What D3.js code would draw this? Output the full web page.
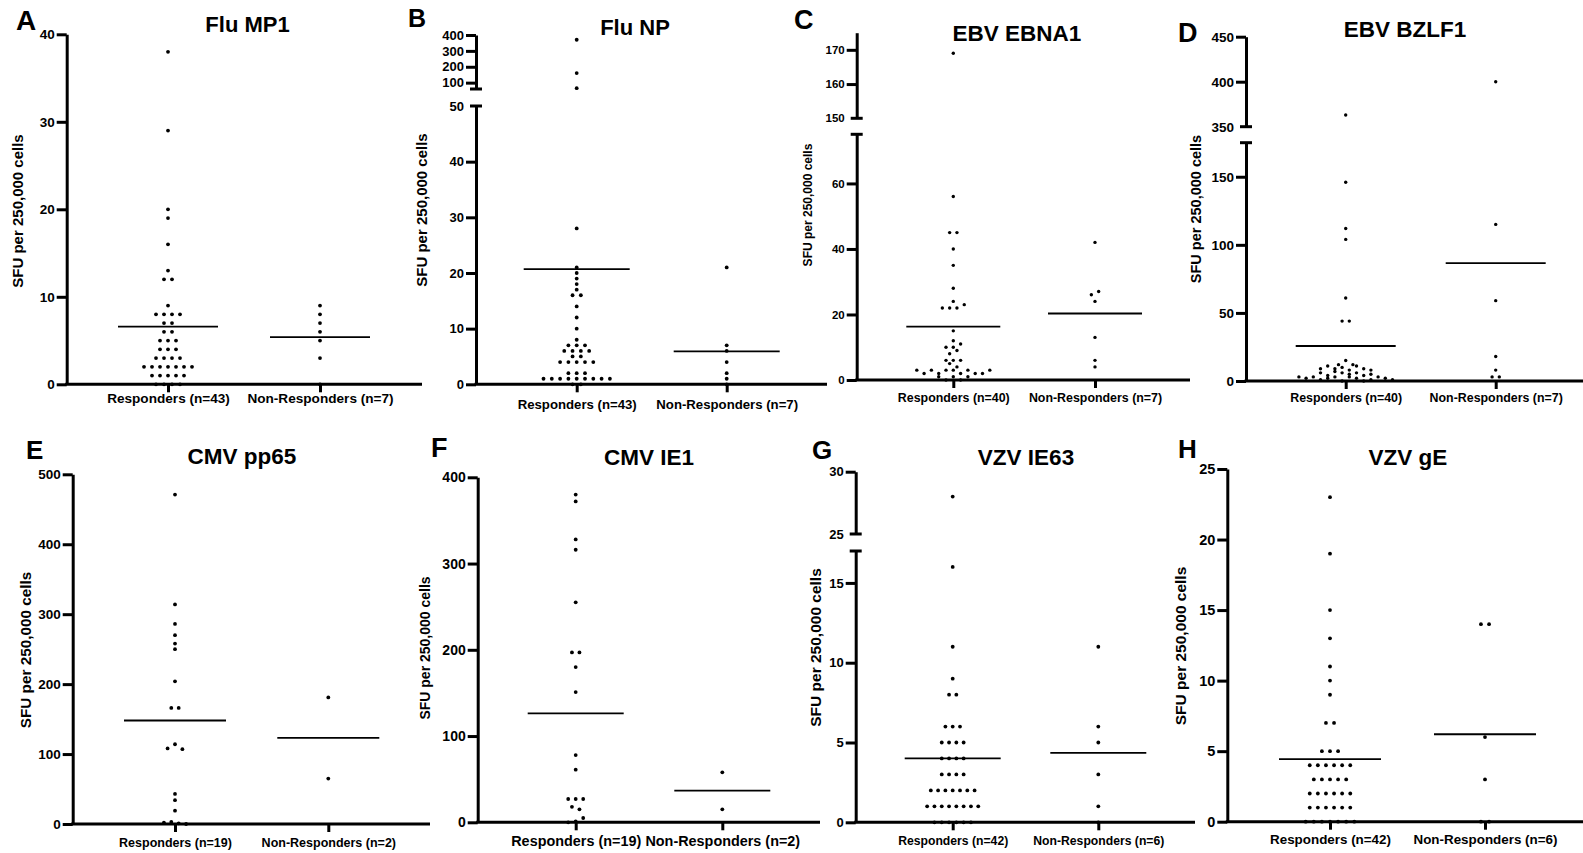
<!DOCTYPE html>
<html>
<head>
<meta charset="utf-8">
<script src="https://cdn.jsdelivr.net/npm/d3@7"></script>
<style>
  body { margin: 0; background: #fff; }
  svg text { font-family: "Liberation Sans", Arial, Helvetica, sans-serif; font-weight: bold; fill: #000; }
</style>
</head>
<body>
<svg id="fig" width="1583" height="853"></svg>
<script>
// Groups shown on every panel's x axis
const groups = ["Responders", "Non-Responders"];

// SFU per 250,000 cells, per antigen and group
const fluMP1Labels = ["Responders (n=43)", "Non-Responders (n=7)"];
const fluMP1Resp = [38,29,20,19,16,13,12,12,9,8,8,8,8,7,7,6,6,5,5,5,4,4,4,3,3,3,3,2,2,2,2,2,2,2,1,1,1,1,1,0,0,0,0];
const fluMP1Non = [9,8,7,6,5,3,0];
const fluMP1Means = [6.6, 5.4];
const fluMP1Ticks = [0,10,20,30,40];

const fluNPLabels = ["Responders (n=43)", "Non-Responders (n=7)"];
const fluNPResp = [370,160,65,28,21,20,19,18,17,16,16,14,12,10,8,7,7,7,6,6,6,6,5,5,4,4,4,4,4,2,2,2,1,1,1,1,1,1,1,1,1,0,0];
const fluNPNon = [21,7,6,4,2,1,0];
const fluNPMeans = [20.7, 5.9];
const fluNPTicksLow = [0,10,20,30,40,50];
const fluNPTicksHigh = [100,200,300,400];

const ebnaLabels = ["Responders (n=40)", "Non-Responders (n=7)"];
const ebnaResp = [169,56,45,45,40,35,28,24,22,22,22,23,15,12,10,10,11,8,9,6,6,6,5,4,
                  3,2,3,2,3,3,2,3,2,2,3, 1,0,1,0,1];
const ebnaNon = [42,24,26,27,13,6,4];
const ebnaMeans = [16.3, 20.3];
const ebnaTicksLow = [0,20,40,60];
const ebnaTicksHigh = [150,160,170];

const bzlf1Labels = ["Responders (n=40)", "Non-Responders (n=7)"];
const bzlf1Resp = [363,146,112,104,61,44,44, 12,15,12, 9,11,9,10,8,11,9,8, 6,4,7,6,5,6,4,5,
                   3,2,3,1,2,3,0,3,2,0,1,3,2,1];
const bzlf1Non = [400,115,59,18,8,3,3];
const bzlf1Means = [25.7, 86.5];
const bzlf1TicksLow = [0,50,100,150];
const bzlf1TicksHigh = [350,400,450];

const pp65Labels = ["Responders (n=19)", "Non-Responders (n=2)"];
const pp65Resp = [471,314,286,270,258,250,204,166,166,108,114,107,43,34,19,2,3,1,0];
const pp65Non = [181,65];
const pp65Means = [148, 123];
const pp65Ticks = [0,100,200,300,400,500];

const ie1Labels = ["Responders (n=19)", "Non-Responders (n=2)"];
const ie1Resp = [380,372,328,316,255,197,197,180,151,78,61,27,27,27,18,15,0,1,5];
const ie1Non = [58,15];
const ie1Means = [126.4, 36.7];
const ie1Ticks = [0,100,200,300,400];

const ie63Labels = ["Responders (n=42)", "Non-Responders (n=6)"];
const ie63Resp = [28,16,11,9,8,8,6,6,6,5,5,5,5,4,4,4,4,3,3,3,3,2,2,2,2,2,2,2,1,1,1,1,1,1,1,1,0,0,0,0,0,0];
const ie63Non = [11,6,5,3,1,0];
const ie63Means = [4.0, 4.35];
const ie63TicksLow = [0,5,10,15];
const ie63TicksHigh = [25,30];

const gELabels = ["Responders (n=42)", "Non-Responders (n=6)"];
const gEResp = [23,19,15,13,11,10,9,7,7,5,5,5,4,4,4,4,4,4,3,3,3,3,3,2,2,2,2,2,2,1,1,1,1,1,1,0,0,0,0,0,0,0];
const gENon = [14,14,6,3,0,0];
const gEMeans = [4.44, 6.2];
const gETicks = [0,5,10,15,20,25];

// Panel layout: axis placement, broken-axis segments and text sizes
const panels = [
  { letter: "A", title: "Flu MP1", labels: fluMP1Labels, resp: fluMP1Resp, non: fluMP1Non, means: fluMP1Means,
    x0: 66.7, x1: 422, xAxisY: 384.3, cx: [168, 320],
    segs: [{ dom: [0, 40], rng: [384.3, 34.3], ticks: fluMP1Ticks }],
    letterPos: [16, 30, 28], titlePos: [247.5, 32, 22], yLab: [18, 211, 15],
    tickFont: 13.5, catFont: 13.6, catBase: 403, step: 8, r: 1.9, half: 50 },
  { letter: "B", title: "Flu NP", labels: fluNPLabels, resp: fluNPResp, non: fluNPNon, means: fluNPMeans,
    x0: 476, x1: 827, xAxisY: 384.3, cx: [576.7, 726.7],
    segs: [{ dom: [0, 50], rng: [384.3, 106], ticks: fluNPTicksLow, capHigh: true },
           { dom: [60, 400], rng: [89, 35], ticks: fluNPTicksHigh, capLow: true }],
    letterPos: [408, 27, 25], titlePos: [635, 35, 22], yLab: [421.7, 210, 15],
    tickFont: 13, catFont: 13.2, catBase: 409, step: 8.3, r: 1.9, half: 53 },
  { letter: "C", title: "EBV EBNA1", labels: ebnaLabels, resp: ebnaResp, non: ebnaNon, means: ebnaMeans,
    x0: 856.7, x1: 1190, xAxisY: 380, cx: [953.3, 1095],
    segs: [{ dom: [0, 75], rng: [380, 134.3], ticks: ebnaTicksLow, capHigh: true },
           { dom: [150, 175], rng: [118.3, 32.7], ticks: ebnaTicksHigh, capLow: true }],
    letterPos: [794, 29, 27], titlePos: [1017, 40.5, 22.5], yLab: [808, 205, 12],
    tickFont: 11.5, catFont: 12.4, catBase: 401.5, step: 7.3, r: 1.7, half: 47 },
  { letter: "D", title: "EBV BZLF1", labels: bzlf1Labels, resp: bzlf1Resp, non: bzlf1Non, means: bzlf1Means,
    x0: 1246, x1: 1583, xAxisY: 381, cx: [1345.7, 1495.7],
    segs: [{ dom: [0, 175], rng: [381, 142.7], ticks: bzlf1TicksLow, capHigh: true },
           { dom: [350, 450], rng: [126.7, 36.7], ticks: bzlf1TicksHigh, capLow: true }],
    letterPos: [1178, 41.5, 27], titlePos: [1405, 37.3, 22.5], yLab: [1196, 209, 14.5],
    tickFont: 13.5, catFont: 12.4, catBase: 401.5, step: 7.2, r: 1.7, half: 50 },
  { letter: "E", title: "CMV pp65", labels: pp65Labels, resp: pp65Resp, non: pp65Non, means: pp65Means,
    x0: 72.7, x1: 430, xAxisY: 824, cx: [175, 328.3],
    segs: [{ dom: [0, 500], rng: [824, 474.3], ticks: pp65Ticks }],
    letterPos: [26, 459, 26], titlePos: [242, 464, 22.5], yLab: [25, 650, 15.3],
    tickFont: 13.5, catFont: 12.5, catBase: 847, step: 7.4, r: 1.9, half: 51 },
  { letter: "F", title: "CMV IE1", labels: ie1Labels, resp: ie1Resp, non: ie1Non, means: ie1Means,
    x0: 477.7, x1: 820, xAxisY: 822.3, cx: [575.7, 722.3],
    segs: [{ dom: [0, 400], rng: [822.3, 477.3], ticks: ie1Ticks }],
    letterPos: [431, 456.5, 27], titlePos: [649, 465, 22.5], yLab: [425, 648, 14],
    tickFont: 14, catFont: 14.4, catBase: 846, step: 7.5, r: 1.9, half: 48 },
  { letter: "G", title: "VZV IE63", labels: ie63Labels, resp: ie63Resp, non: ie63Non, means: ie63Means,
    x0: 855.7, x1: 1195, xAxisY: 822.3, cx: [952.7, 1098.3],
    segs: [{ dom: [0, 17], rng: [822.3, 551], ticks: ie63TicksLow, capHigh: true },
           { dom: [25, 30], rng: [534, 471.7], ticks: ie63TicksHigh, capLow: true }],
    letterPos: [812, 458.5, 26], titlePos: [1026, 465, 22.5], yLab: [815, 647.5, 15.5],
    tickFont: 13, catFont: 12.2, catBase: 845, step: 7.3, r: 1.9, half: 48 },
  { letter: "H", title: "VZV gE", labels: gELabels, resp: gEResp, non: gENon, means: gEMeans,
    x0: 1227.3, x1: 1583, xAxisY: 821.7, cx: [1330, 1485],
    segs: [{ dom: [0, 25], rng: [821.7, 469], ticks: gETicks }],
    letterPos: [1178, 458, 26], titlePos: [1408, 465, 22.5], yLab: [1180, 646, 15.5],
    tickFont: 14.5, catFont: 13.4, catBase: 844, step: 8.1, r: 1.9, half: 51 }
];

const AXIS_W = 3;
const CAP = 6;
const BIN_H = 5;
const tickFmt = d3.format("~g");

// Scatter-dot layout: values whose pixel rows are within BIN_H share a row,
// and each row is spread horizontally around the group centre.
function swarm(values, yOf, cx, step) {
  const pts = values.map((v, i) => ({ v, i, y: yOf(v) }));
  const sorted = pts.slice().sort((a, b) => b.y - a.y || a.i - b.i);
  const bins = [];
  let cur = null;
  sorted.forEach(p => {
    if (!cur || cur.start - p.y >= BIN_H) { cur = { start: p.y, pts: [] }; bins.push(cur); }
    cur.pts.push(p);
  });
  bins.forEach(b => {
    b.pts.sort((a, c) => a.i - c.i);
    const n = b.pts.length;
    b.pts.forEach((p, k) => { p.x = cx + (k - (n - 1) / 2) * step; });
  });
  return pts;
}

const svg = d3.select("#fig");
svg.append("rect").attr("width", 1583).attr("height", 853).attr("fill", "#fff");

panels.forEach(p => {
  const g = svg.append("g");
  const scales = p.segs.map(s => d3.scaleLinear().domain(s.dom).range(s.rng));
  const yOf = v => {
    for (let k = 0; k < p.segs.length; k++) {
      if (v <= p.segs[k].dom[1] || k === p.segs.length - 1) return scales[k](v);
    }
  };

  // y axis, one piece per segment of the broken axis
  p.segs.forEach((s, k) => {
    const ax = g.append("g")
      .attr("transform", `translate(${p.x0},0)`)
      .call(d3.axisLeft(scales[k]).tickValues(s.ticks).tickFormat(tickFmt)
        .tickSize(10).tickPadding(2).tickSizeOuter(0));
    ax.select(".domain").attr("stroke", "#000").attr("stroke-width", AXIS_W);
    ax.selectAll(".tick line").attr("stroke", "#000").attr("stroke-width", AXIS_W);
    ax.selectAll(".tick text").style("font-size", p.tickFont + "px");
    const capVals = [];
    if (s.capLow) capVals.push(s.dom[0]);
    if (s.capHigh) capVals.push(s.dom[1]);
    ax.selectAll(".tick line").filter(d => capVals.includes(d)).remove();
    capVals.forEach(v => {
      ax.append("line")
        .attr("x1", -CAP).attr("x2", CAP)
        .attr("y1", scales[k](v)).attr("y2", scales[k](v))
        .attr("stroke", "#000").attr("stroke-width", AXIS_W);
    });
  });

  // x axis with the two groups
  const xs = d3.scalePoint().domain(groups).range(p.cx);
  const xa = g.append("g")
    .attr("transform", `translate(0,${p.xAxisY})`)
    .call(d3.axisBottom(xs).tickSize(8).tickSizeOuter(0).tickFormat((d, i) => p.labels[i]));
  xa.select(".domain").remove();
  xa.selectAll(".tick line").attr("stroke", "#000").attr("stroke-width", AXIS_W);
  xa.selectAll(".tick text")
    .attr("y", p.catBase - p.xAxisY).attr("dy", 0)
    .style("font-size", p.catFont + "px");
  g.append("line")
    .attr("x1", p.x0 - AXIS_W / 2).attr("x2", p.x1)
    .attr("y1", p.xAxisY).attr("y2", p.xAxisY)
    .attr("stroke", "#000").attr("stroke-width", AXIS_W);

  // group mean lines
  p.means.forEach((m, i) => {
    const c = xs(groups[i]);
    g.append("line")
      .attr("x1", c - p.half).attr("x2", c + p.half)
      .attr("y1", yOf(m)).attr("y2", yOf(m))
      .attr("stroke", "#000").attr("stroke-width", 1.8);
  });

  // individual donors
  [p.resp, p.non].forEach((vals, i) => {
    const pts = swarm(vals, yOf, xs(groups[i]), p.step);
    g.selectAll(null).data(pts).join("circle")
      .attr("cx", d => d.x).attr("cy", d => d.y)
      .attr("r", p.r).attr("fill", "#000");
  });

  // panel letter, title and y label
  g.append("text")
    .attr("x", p.letterPos[0]).attr("y", p.letterPos[1])
    .style("font-size", p.letterPos[2] + "px")
    .text(p.letter);
  g.append("text")
    .attr("x", p.titlePos[0]).attr("y", p.titlePos[1])
    .attr("text-anchor", "middle")
    .style("font-size", p.titlePos[2] + "px")
    .text(p.title);
  g.append("text")
    .attr("transform", `translate(${p.yLab[0]},${p.yLab[1]}) rotate(-90)`)
    .attr("text-anchor", "middle").attr("dy", "0.36em")
    .style("font-size", p.yLab[2] + "px")
    .text("SFU per 250,000 cells");
});
</script>
</body>
</html>
